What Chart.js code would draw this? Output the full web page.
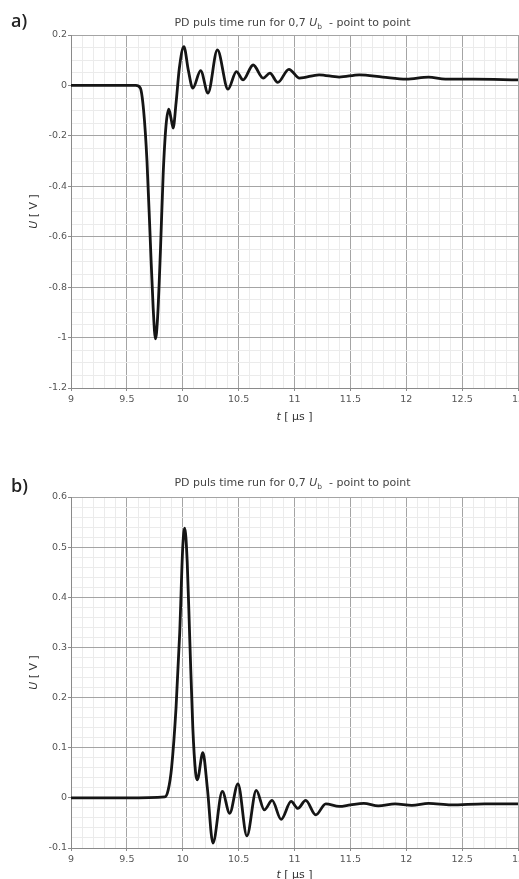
<!DOCTYPE html>
<html>
<head>
<meta charset="utf-8">
<script src="https://cdn.jsdelivr.net/npm/chart.js@4.4.1/dist/chart.umd.min.js"></script>
<style>
  body { margin: 0; background: #fff; }
  canvas { position: absolute; left: 0; }
</style>
</head>
<body>
<canvas id="chartA" width="519" height="440" style="top:0"></canvas>
<canvas id="chartB" width="519" height="439" style="top:440px"></canvas>
<script>
// time axis [us] and voltage [V]
const timeA = [9.0, 9.3, 9.58, 9.62, 9.65, 9.68, 9.71, 9.735, 9.756, 9.775, 9.8, 9.825, 9.85, 9.875, 9.895, 9.914,
    9.94, 9.97, 10.01, 10.05, 10.09, 10.16, 10.226, 10.31, 10.405, 10.48, 10.54, 10.63, 10.72, 10.78, 10.85,
    10.95, 11.045, 11.22, 11.4, 11.58, 11.79, 12.0, 12.2, 12.35, 12.6, 13.0];
const voltA = [0.0, 0.0, 0.0, -0.01, -0.1, -0.3, -0.62, -0.88, -1.005, -0.92, -0.66, -0.35, -0.16, -0.094, -0.13, -0.169,
    -0.07, 0.07, 0.154, 0.06, -0.011, 0.059, -0.03, 0.141, -0.015, 0.055, 0.022, 0.081, 0.029, 0.049, 0.012,
    0.064, 0.029, 0.042, 0.033, 0.042, 0.033, 0.025, 0.033, 0.025, 0.025, 0.022];

const timeB = [9.0, 9.5, 9.84, 9.87, 9.9, 9.94, 9.973, 10.0, 10.018, 10.04, 10.063, 10.09, 10.115, 10.13, 10.18,
    10.22, 10.27, 10.354, 10.42, 10.494, 10.574, 10.658, 10.73, 10.8, 10.88, 10.97, 11.03, 11.1, 11.19, 11.28,
    11.4, 11.5, 11.62, 11.75, 11.9, 12.05, 12.2, 12.4, 12.7, 13.0];
const voltB = [0.0, 0.0, 0.002, 0.016, 0.06, 0.18, 0.33, 0.5, 0.538, 0.47, 0.315, 0.14, 0.05, 0.036, 0.09,
    0.02, -0.09, 0.013, -0.031, 0.028, -0.076, 0.015, -0.024, -0.005, -0.043, -0.007, -0.021, -0.005, -0.034, -0.012,
    -0.017, -0.014, -0.011, -0.016, -0.012, -0.015, -0.011, -0.014, -0.012, -0.012];

// axis ticks
const xRange = [9, 13], xMajor = 0.5, xMinor = 0.1;
const yRangeA = [-1.2, 0.2], yMajorA = 0.2, yMinorA = 0.05;
const yRangeB = [-0.1, 0.6], yMajorB = 0.1, yMinorB = 0.02;

const FONT = "'DejaVu Sans', 'Liberation Sans', sans-serif";

function isMajor(v, step) {
    return Math.abs(v / step - Math.round(v / step)) < 1e-6;
}

function makeTicks(range, step) {
    let out = [];
    let n = Math.round((range[1] - range[0]) / step);
    for (let i = 0; i <= n; i++) {
        out.push({value: Math.round((range[0] + i * step) * 1000) / 1000});
    }
    return out;
}

function axis(range, major, minor, horizontal, fitSize) {
    return {
        type: "linear",
        min: range[0],
        max: range[1],
        afterBuildTicks: scale => { scale.ticks = makeTicks(range, minor); },
        afterFit: scale => {
            if (horizontal) scale.height = fitSize; else scale.width = fitSize;
            scale.paddingLeft = 0; scale.paddingRight = 0;
            scale.paddingTop = 0; scale.paddingBottom = 0;
        },
        border: {display: true, color: "#8a8a8a", width: 1},
        grid: {
            color: ctx => isMajor(ctx.tick.value, major) ? "#a4a4a4" : "#ebebeb",
            tickColor: ctx => isMajor(ctx.tick.value, major) ? "#8a8a8a" : "rgba(0,0,0,0)",
            tickLength: 3,
            lineWidth: 1
        },
        ticks: {
            autoSkip: false,
            maxRotation: 0,
            padding: horizontal ? 3 : 1,
            color: "#555",
            font: {family: FONT, size: 9.5},
            callback: v => isMajor(v, major) ? String(Math.round(v * 10) / 10) : ""
        }
    };
}

// draws a line of text made of pieces with own fonts, centred at x
function drawPieces(ctx, pieces, x, y) {
    let total = 0;
    pieces.forEach(p => { ctx.font = p.font; total += ctx.measureText(p.text).width; });
    let cx = x - total / 2;
    pieces.forEach(p => {
        ctx.font = p.font;
        ctx.fillText(p.text, cx, y + (p.dy || 0));
        cx += ctx.measureText(p.text).width;
    });
}

const labelsPlugin = {
    id: "labels",
    afterDraw(chart, args, opts) {
        const ctx = chart.ctx;
        const area = chart.chartArea;
        const mid = (area.left + area.right) / 2;
        ctx.save();
        ctx.textBaseline = "alphabetic";
        ctx.textAlign = "left";
        // panel letter
        ctx.fillStyle = "#222";
        ctx.font = "600 18px 'Open Sans', sans-serif";
        ctx.fillText(opts.letter, 11, opts.letterY);
        // title
        ctx.fillStyle = "#444";
        drawPieces(ctx, [
            {text: "PD puls time run for 0,7 ", font: "11px " + FONT},
            {text: "U", font: "italic 11px " + FONT},
            {text: "b", font: "7.5px " + FONT, dy: 2.5},
            {text: "  - point to point", font: "11px " + FONT}
        ], mid - 2, opts.titleY);
        // x title
        ctx.fillStyle = "#333";
        drawPieces(ctx, [
            {text: "t", font: "italic 11px " + FONT},
            {text: " [ µs ]", font: "11px " + FONT}
        ], mid, opts.xTitleY);
        // y title
        ctx.translate(37, (area.top + area.bottom) / 2);
        ctx.rotate(-Math.PI / 2);
        drawPieces(ctx, [
            {text: "U", font: "italic 11px " + FONT},
            {text: " [ V ]", font: "11px " + FONT}
        ], 0, 0);
        ctx.restore();
    }
};

function makeChart(id, times, volts, yRange, yMajor, yMinor, padTop, xHeight, opts) {
    const points = times.map((t, i) => ({x: t, y: volts[i]}));
    return new Chart(document.getElementById(id), {
        type: "line",
        data: {
            datasets: [{
                data: points,
                borderColor: "#151515",
                borderWidth: 2.8,
                pointRadius: 0,
                cubicInterpolationMode: "monotone",
                fill: false
            }]
        },
        options: {
            responsive: false,
            animation: false,
            devicePixelRatio: 1,
            layout: {padding: {top: padTop, left: 0, right: 1, bottom: 0}},
            scales: {
                x: axis(xRange, xMajor, xMinor, true, xHeight),
                y: axis(yRange, yMajor, yMinor, false, 71)
            },
            plugins: {
                legend: {display: false},
                tooltip: {enabled: false},
                labels: opts
            }
        },
        plugins: [labelsPlugin]
    });
}

makeChart("chartA", timeA, voltA, yRangeA, yMajorA, yMinorA, 35, 52,
    {letter: "a)", letterY: 27, titleY: 26, xTitleY: 420});
makeChart("chartB", timeB, voltB, yRangeB, yMajorB, yMinorB, 57, 31,
    {letter: "b)", letterY: 52, titleY: 46, xTitleY: 438});
</script>
</body>
</html>
